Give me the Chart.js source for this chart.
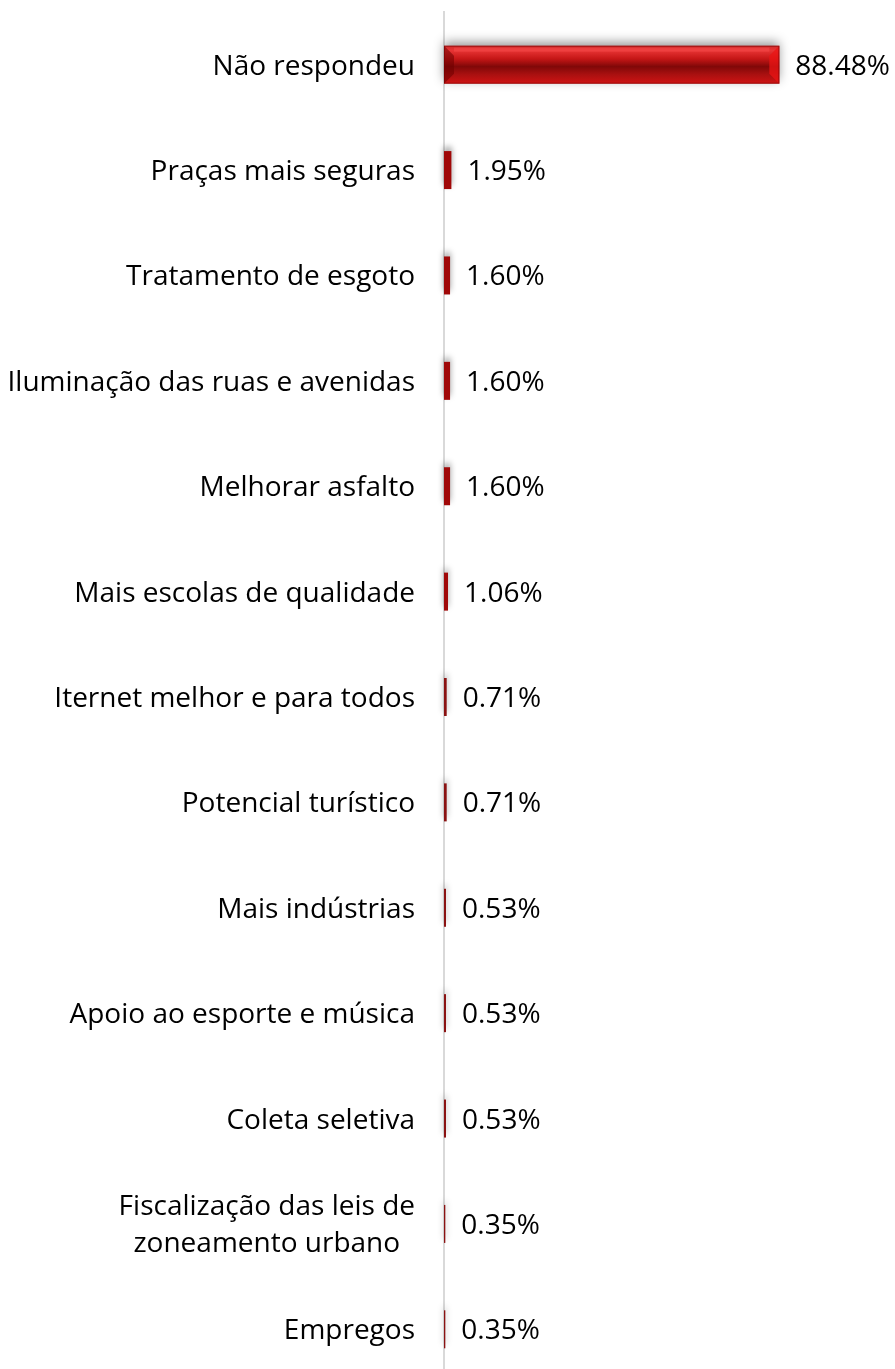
<!DOCTYPE html>
<html>
<head>
<meta charset="utf-8">
<script src="https://cdn.jsdelivr.net/npm/chart.js@4/dist/chart.umd.min.js"></script>
<style>
html,body{margin:0;padding:0;background:#fff;overflow:hidden;}
#wrap{width:895px;height:1382px;position:relative;}
</style>
</head>
<body>
<div id="wrap"><canvas id="c" width="895" height="1382"></canvas></div>
<script>
const categories = [
  "Não respondeu",
  "Praças mais seguras",
  "Tratamento de esgoto",
  "Iluminação das ruas e avenidas",
  "Melhorar asfalto",
  "Mais escolas de qualidade",
  "Iternet melhor e para todos",
  "Potencial turístico",
  "Mais indústrias",
  "Apoio ao esporte e música",
  "Coleta seletiva",
  ["Fiscalização das leis de", "zoneamento urbano"],
  "Empregos"
];
const values = [88.48, 1.95, 1.60, 1.60, 1.60, 1.06, 0.71, 0.71, 0.53, 0.53, 0.53, 0.35, 0.35];
const valueLabels = ["88.48%","1.95%","1.60%","1.60%","1.60%","1.06%","0.71%","0.71%","0.53%","0.53%","0.53%","0.35%","0.35%"];

const FONT = '28px "Open Sans", Lato, sans-serif';

const bevelBars = {
  id: 'bevelBars',
  afterDatasetsDraw(chart) {
    const ctx = chart.ctx;
    const meta = chart.getDatasetMeta(0);
    meta.data.forEach((bar) => {
      const x0 = bar.base, x1 = bar.x;
      const h = bar.height;
      const y0 = bar.y - h / 2, y1 = bar.y + h / 2;
      const w = x1 - x0;
      if (w <= 0) return;
      ctx.save();
      const big = w > 20;
      let fill = w > 3 ? '#a00808' : '#8a1212';
      if (big) {
        const g = ctx.createLinearGradient(0, y0, 0, y1);
        g.addColorStop(0, '#cc2a2a');
        g.addColorStop(0.12, '#e83434');
        g.addColorStop(0.35, '#c41616');
        g.addColorStop(0.55, '#800808');
        g.addColorStop(0.75, '#a81010');
        g.addColorStop(1, '#d01414');
        fill = g;
      }
      ctx.shadowColor = 'rgba(0,0,0,0.4)';
      ctx.shadowBlur = big ? 10 : 6;
      ctx.shadowOffsetY = -4;
      ctx.fillStyle = fill;
      ctx.fillRect(x0, y0, w, h);
      ctx.shadowColor = 'transparent';
      if (big) {
        const b = 10;
        ctx.beginPath();
        ctx.moveTo(x0, y0); ctx.lineTo(x0 + b, y0 + b); ctx.lineTo(x0 + b, y1 - b); ctx.lineTo(x0, y1); ctx.closePath();
        ctx.fillStyle = 'rgba(110,0,0,0.55)';
        ctx.fill();
        ctx.beginPath();
        ctx.moveTo(x1, y0); ctx.lineTo(x1 - b, y0 + b); ctx.lineTo(x1 - b, y1 - b); ctx.lineTo(x1, y1); ctx.closePath();
        ctx.fillStyle = 'rgba(235,20,20,0.75)';
        ctx.fill();
        ctx.fillStyle = 'rgba(255,90,90,0.35)';
        ctx.fillRect(x0 + b, y0 + 2, w - 2 * b, 4);
        ctx.strokeStyle = 'rgba(120,0,0,0.6)';
        ctx.lineWidth = 1;
        ctx.strokeRect(x0 + 0.5, y0 + 0.5, w - 1, h - 1);
      }
      ctx.restore();
    });
  },
  afterDraw(chart) {
    const ctx = chart.ctx;
    const meta = chart.getDatasetMeta(0);
    const yScale = chart.scales.y;
    ctx.save();
    ctx.font = FONT;
    ctx.fillStyle = '#000';
    ctx.textBaseline = 'middle';
    meta.data.forEach((bar, i) => {
      ctx.textAlign = 'left';
      ctx.fillText(valueLabels[i], bar.x + 16, bar.y + 2);
    });
    const right = chart.chartArea.left - 29;
    categories.forEach((lab, i) => {
      const yc = yScale.getPixelForValue(i) + 2;
      if (Array.isArray(lab)) {
        const mw = Math.max(...lab.map(s => ctx.measureText(s).width));
        const cx = right - mw / 2;
        const lh = 37;
        ctx.textAlign = 'center';
        lab.forEach((s, k) => {
          ctx.fillText(s, cx, yc + (k - (lab.length - 1) / 2) * lh);
        });
      } else {
        ctx.textAlign = 'right';
        ctx.fillText(lab, right, yc);
      }
    });
    ctx.restore();
  }
};

new Chart(document.getElementById('c'), {
  type: 'bar',
  data: {
    labels: categories,
    datasets: [{
      data: values,
      backgroundColor: 'rgba(0,0,0,0)',
      borderWidth: 0,
      barThickness: 38
    }]
  },
  options: {
    indexAxis: 'y',
    responsive: false,
    animation: false,
    events: [],
    layout: { padding: { left: 444, top: 12, right: 0, bottom: 0 } },
    plugins: { legend: { display: false }, tooltip: { enabled: false } },
    scales: {
      x: { display: false, min: 0, max: 119 },
      y: {
        display: true,
        ticks: { display: false },
        grid: { display: false, drawTicks: false },
        border: { display: true, color: '#d9d9d9', width: 2 }
      }
    }
  },
  plugins: [bevelBars]
});
</script>
</body>
</html>
